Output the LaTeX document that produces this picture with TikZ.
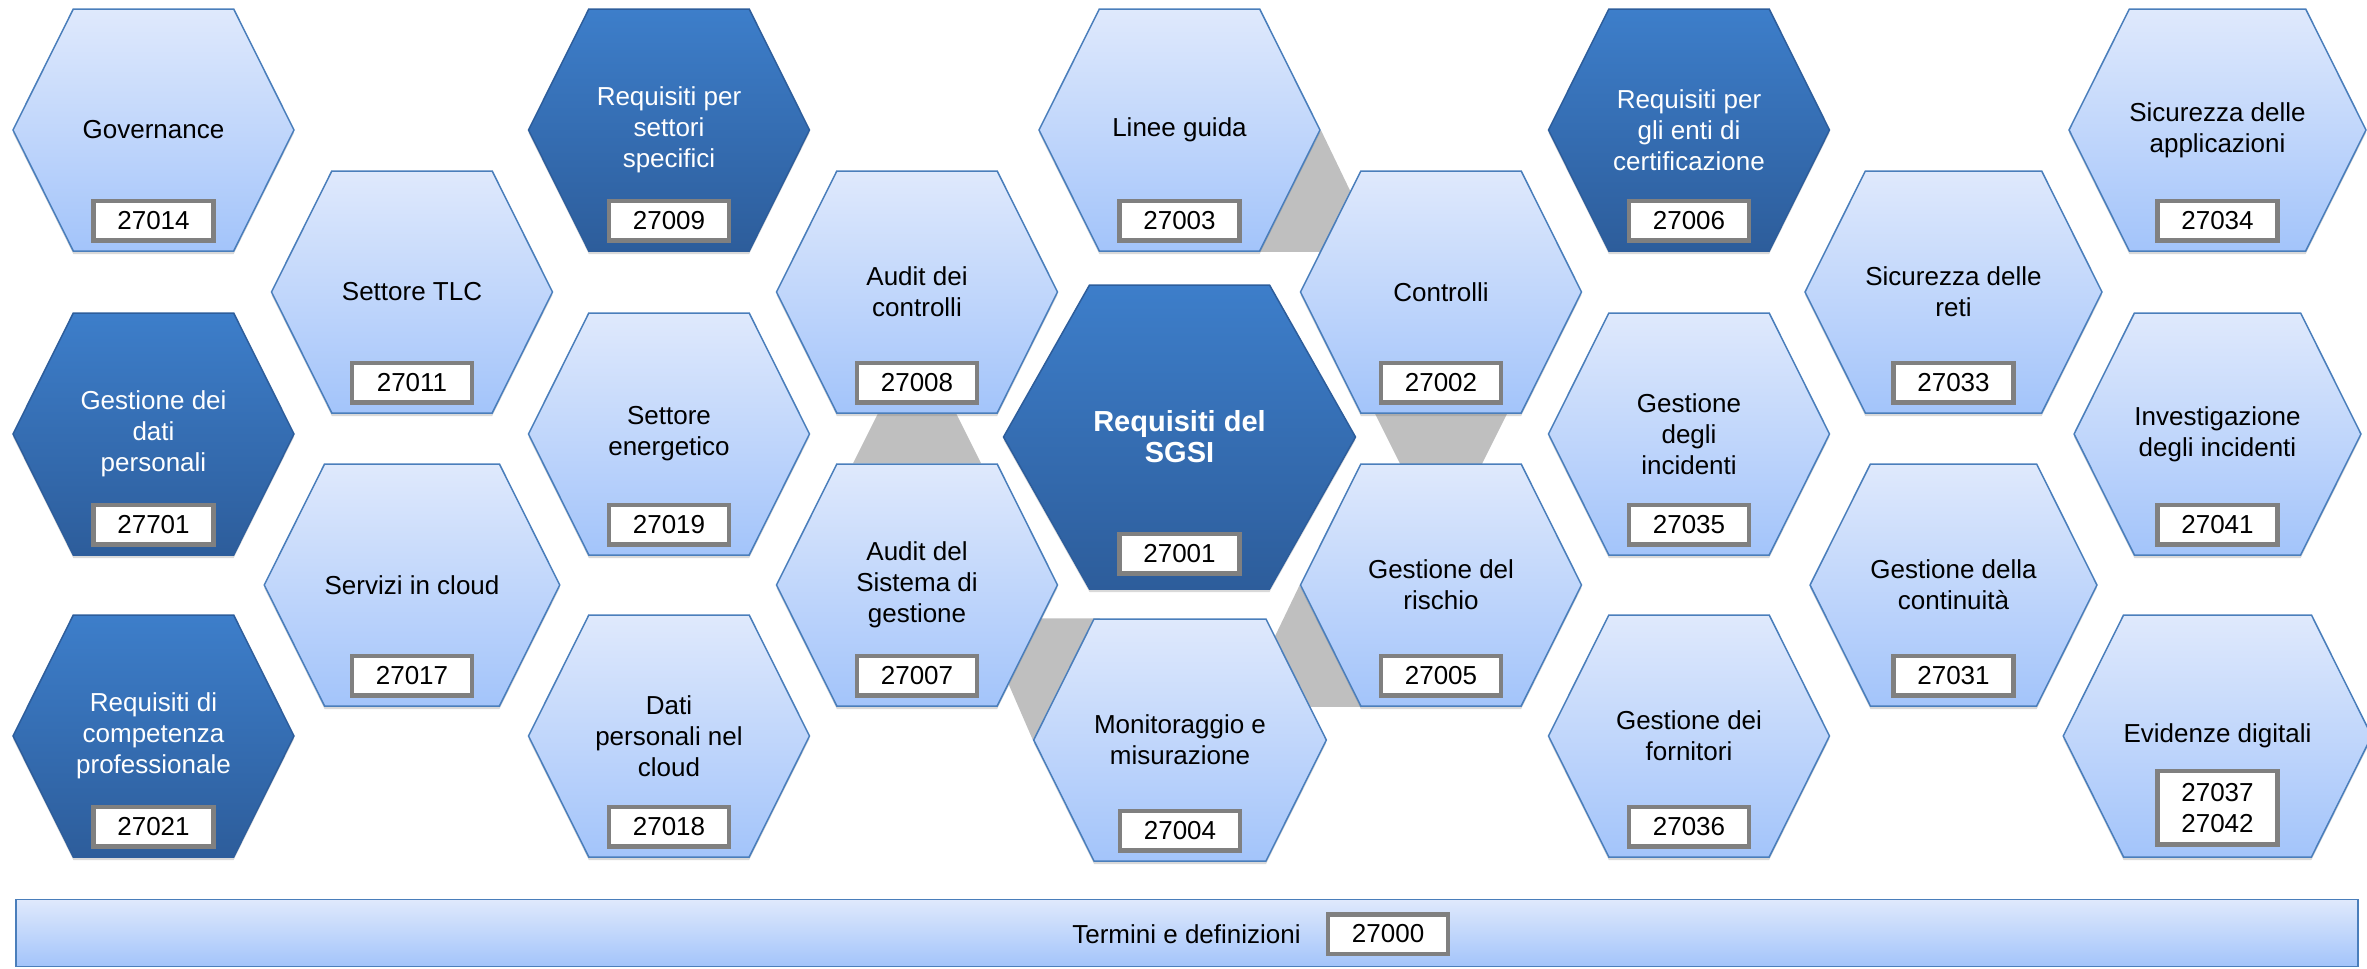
\documentclass[tikz,border=0pt]{standalone}
\usepackage{fontspec}
\setmainfont{Liberation Sans}
\usetikzlibrary{shapes.symbols,positioning,calc,shadows}

\definecolor{hexline}{RGB}{74,126,187}
\definecolor{hextop}{RGB}{223,233,252}
\definecolor{hexbot}{RGB}{163,196,250}
\definecolor{darktop}{RGB}{61,126,202}
\definecolor{darkbot}{RGB}{45,93,155}
\definecolor{numline}{RGB}{128,128,128}
\definecolor{linkgrey}{RGB}{191,191,191}

\pgfdeclarelayer{background}
\pgfsetlayers{background,main}

\tikzset{
	hexa/.style={signal, signal to=east and west, signal pointer angle=127,
		minimum width=281pt, minimum height=242pt, inner sep=0pt, align=center,
		font=\fontsize{26}{31}\selectfont, line width=1.5pt,
		drop shadow={opacity=0.3, shadow xshift=0pt, shadow yshift=-3pt}},
	light/.style={hexa, draw=hexline, top color=hextop, bottom color=hexbot},
	dark/.style={hexa, draw=darkbot, top color=darktop, bottom color=darkbot, text=white},
	num/.style={draw=numline, line width=4.5pt, fill=white, minimum width=120pt,
		minimum height=39.5pt, inner sep=1pt, align=center, font=\fontsize{26}{31}\selectfont},
	band/.style={fill=linkgrey},
}

\begin{document}
\begin{tikzpicture}[x=1pt, y=-1pt]
	\useasboundingbox (0,0) rectangle (2367,969);

	% hexagons, column by column
	\node[light] (gov) at (153.5,130) {Governance};
	\node[dark] (gdp) at (153.5,434) {Gestione dei\\dati\\personali};
	\node[dark] (rcp) at (153.5,736) {Requisiti di\\competenza\\professionale};

	\node[light] (tlc) at (412,292) {Settore TLC};
	\node[light] (cloud) at (412,585) {Servizi in cloud};

	\node[dark] (rss) at (669,130) {Requisiti per\\settori\\specifici};
	\node[light] (ener) at (669,434) {Settore\\energetico};
	\node[light] (dpc) at (669,736) {Dati\\personali nel\\cloud};

	\node[light] (adc) at (917,292) {Audit dei\\controlli};
	\node[light] (asg) at (917,585) {Audit del\\Sistema di\\gestione};

	\node[light] (lg) at (1179.5,130) {Linee guida};
	\node[dark, minimum width=352pt, minimum height=304pt, signal pointer angle=121,
		font=\bfseries\fontsize{29}{31}\selectfont] (sgsi) at (1179.5,437) {Requisiti del\\SGSI};
	\node[light] (mon) at (1180,740) {Monitoraggio e\\misurazione};

	\node[light] (ctrl) at (1441,292) {Controlli};
	\node[light] (risk) at (1441,585) {Gestione del\\rischio};

	\node[dark] (rec) at (1689,130) {Requisiti per\\gli enti di\\certificazione};
	\node[light] (ginc) at (1689,434) {Gestione\\degli\\incidenti};
	\node[light] (forn) at (1689,736) {Gestione dei\\fornitori};

	\node[light] (reti) at (1953.5,292) {Sicurezza delle\\reti};
	\node[light] (cont) at (1953.5,585) {Gestione della\\continuità};

	\node[light] (app) at (2217.5,130) {Sicurezza delle\\applicazioni};
	\node[light] (inv) at (2217.5,434) {Investigazione\\degli incidenti};
	\node[light] (evid) at (2217.5,736) {Evidenze digitali};

	% grey links behind the ring round the SGSI
	\begin{pgfonlayer}{background}
		\fill[band] (lg.east) -- ($(lg.south)+(80,0)$) -- ($(lg.south)+(200,0)$) -- cycle;
		\fill[band] ($(ctrl.south)+(-66,0)$) -- ($(ctrl.south)+(66,0)$) -- ($(ctrl.south)+(0,132)$) -- cycle;
		\fill[band] (risk.west) -- ($(risk.south)+(-80,0)$) -- ($(risk.south)+(-200,0)$) -- cycle;
		\fill[band] (mon.west) -- ($(mon.north)+(-80,0)$) -- ($(mon.north)+(-200,0)$) -- cycle;
		\fill[band] ($(asg.north)+(-64,0)$) -- ($(asg.north)+(64,0)$) -- ($(asg.north)+(0,-128)$) -- cycle;
	\end{pgfonlayer}

	% standard numbers
	\node[num, above=9pt of gov.south] (n27014) {27014};
	\node[num, above=9pt of gdp.south] (n27701) {27701};
	\node[num, above=9pt of rcp.south] (n27021) {27021};
	\node[num, above=9pt of tlc.south] (n27011) {27011};
	\node[num, above=9pt of cloud.south] (n27017) {27017};
	\node[num, above=9pt of rss.south] (n27009) {27009};
	\node[num, above=9pt of ener.south] (n27019) {27019};
	\node[num, above=9pt of dpc.south] (n27018) {27018};
	\node[num, above=9pt of adc.south] (n27008) {27008};
	\node[num, above=9pt of asg.south] (n27007) {27007};
	\node[num, above=9pt of lg.south] (n27003) {27003};
	\node[num, above=14pt of sgsi.south] (n27001) {27001};
	\node[num, above=9pt of mon.south] (n27004) {27004};
	\node[num, above=9pt of ctrl.south] (n27002) {27002};
	\node[num, above=9pt of risk.south] (n27005) {27005};
	\node[num, above=9pt of rec.south] (n27006) {27006};
	\node[num, above=9pt of ginc.south] (n27035) {27035};
	\node[num, above=9pt of forn.south] (n27036) {27036};
	\node[num, above=9pt of reti.south] (n27033) {27033};
	\node[num, above=9pt of cont.south] (n27031) {27031};
	\node[num, above=9pt of app.south] (n27034) {27034};
	\node[num, above=9pt of inv.south] (n27041) {27041};
	\node[num, minimum height=73.5pt, above=11pt of evid.south] (n27037) {27037\\27042};

	% bottom bar
	\node[draw=hexline, line width=1.5pt, top color=hextop, bottom color=hexbot,
		minimum width=2342pt, minimum height=67pt] (bar) at (1187,933) {};
	\node[inner sep=0pt, font=\fontsize{26}{31}\selectfont] (termini) at (1186.5,934) {Termini e definizioni};
	\node[num, right=25pt of termini] (n27000) {27000};
\end{tikzpicture}
\end{document}
